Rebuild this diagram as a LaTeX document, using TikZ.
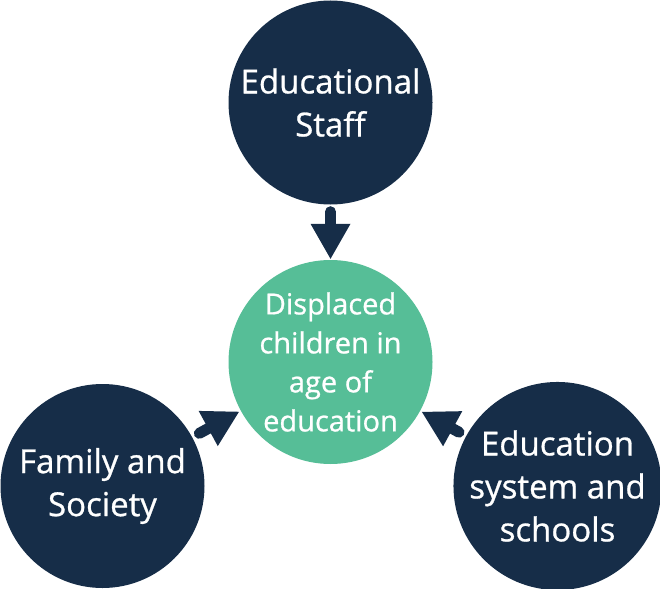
\documentclass[tikz,border=0pt]{standalone}
\usepackage{fontspec}
\setmainfont{Open Sans}
\newfontfamily\labelfont{Open Sans}[FakeBold=0.8]
\usetikzlibrary{arrows.meta}
\definecolor{navy}{RGB}{22,45,72}
\definecolor{mint}{RGB}{86,190,151}
\begin{document}
\begin{tikzpicture}[x=1pt,y=-1pt,
    outer/.style={circle,fill=navy,text=white,minimum size=204pt,inner sep=0pt,
      align=center,font=\labelfont\fontsize{33}{43}\selectfont},
    inner/.style={circle,fill=mint,text=white,minimum size=204pt,inner sep=0pt,
      align=center,font=\labelfont\fontsize{29}{39}\selectfont},
    blockarrow/.style={draw=navy,line width=11pt,line cap=round,
      -{Triangle[width=40pt,length=35pt,line width=0pt]}}]
      \useasboundingbox (0,0) rectangle (660,588);

      \node [inner] (kids) at (330.5,362) {Displaced\\children in\\age of\\education};
      \node [outer] (staff) at (330.5,102.5) {Educational\\Staff};
      \node [outer] (family) at (102.5,486) {Family and\\Society};
      \node [outer] (schools) at (557.5,486) {Education\\system and\\schools};

      \draw [blockarrow,shorten <=7pt,shorten >=1pt] (staff) -- (kids);
      \draw [blockarrow,shorten <=8pt,shorten >=2pt] (family) -- (kids);
      \draw [blockarrow,shorten <=8pt,shorten >=2pt] (schools) -- (kids);

    \end{tikzpicture}
\end{document}
